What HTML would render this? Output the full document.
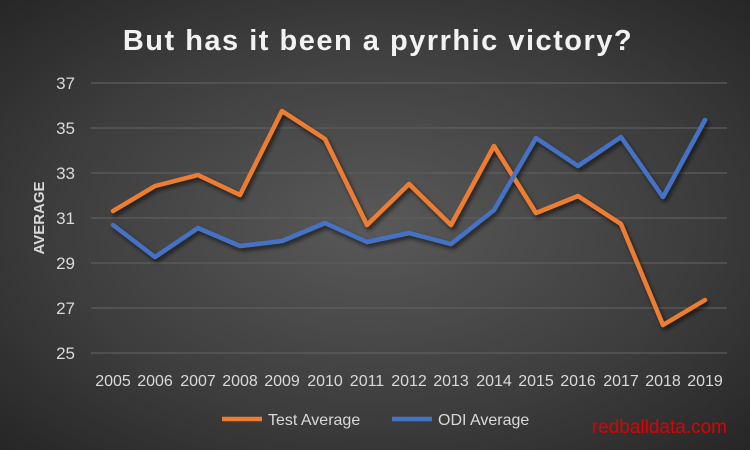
<!DOCTYPE html>
<html><head><style>
html,body{margin:0;padding:0;}
body{width:750px;height:450px;overflow:hidden;background:radial-gradient(ellipse at 50% 50%,#595959 0%,#3d3d3d 60%,#262626 100%);font-family:"Liberation Sans",sans-serif;}
</style></head><body>
<svg width="750" height="450" style="position:absolute;left:0;top:0">
<defs><filter id="s" x="-10%" y="-10%" width="120%" height="130%"><feDropShadow dx="2" dy="3" stdDeviation="2" flood-color="#000" flood-opacity="0.6"/></filter></defs>
<text x="378" y="50" text-anchor="middle" font-size="29" font-weight="bold" fill="#f2f2f2" letter-spacing="1.5">But has it been a pyrrhic victory?</text>
<g stroke="#5e5e5e" stroke-width="1.3">
<line x1="91" x2="727" y1="83" y2="83"/><line x1="91" x2="727" y1="128" y2="128"/><line x1="91" x2="727" y1="173" y2="173"/><line x1="91" x2="727" y1="218" y2="218"/><line x1="91" x2="727" y1="263" y2="263"/><line x1="91" x2="727" y1="308" y2="308"/><line x1="91" x2="727" y1="353" y2="353"/>
</g>
<g fill="#d9d9d9" font-size="17" text-anchor="end">
<text x="75" y="89">37</text><text x="75" y="134">35</text><text x="75" y="179">33</text><text x="75" y="224">31</text><text x="75" y="269">29</text><text x="75" y="314">27</text><text x="75" y="359">25</text>
</g>
<text transform="translate(44,218) rotate(-90)" text-anchor="middle" font-size="15" font-weight="bold" fill="#d9d9d9">AVERAGE</text>
<g fill="#d9d9d9" font-size="16" text-anchor="middle">
<text x="113" y="386">2005</text><text x="155" y="386">2006</text><text x="198" y="386">2007</text><text x="240" y="386">2008</text><text x="282" y="386">2009</text><text x="325" y="386">2010</text><text x="367" y="386">2011</text><text x="409" y="386">2012</text><text x="451" y="386">2013</text><text x="494" y="386">2014</text><text x="536" y="386">2015</text><text x="578" y="386">2016</text><text x="621" y="386">2017</text><text x="663" y="386">2018</text><text x="705" y="386">2019</text>
</g>
<g fill="none" stroke-width="4.5" stroke-linejoin="round" stroke-linecap="round" filter="url(#s)">
<polyline stroke="#ed7d31" points="113,211 155,186 198,175 240,195 282,111 325,139 367,225 409,184 451,225 494,146 536,213 578,196 621,224 663,325 705,300"/>
<polyline stroke="#4472c4" points="113,225 155,257 198,228 240,246 282,241 325,223 367,242 409,233 451,244 494,210 536,138 578,166 621,137 663,197 705,120"/>
</g>
<line x1="222" x2="262" y1="419" y2="419" stroke="#ed7d31" stroke-width="4.5"/>
<text x="268" y="425" font-size="16" fill="#d9d9d9">Test Average</text>
<line x1="392" x2="432" y1="419" y2="419" stroke="#4472c4" stroke-width="4.5"/>
<text x="438" y="425" font-size="16" fill="#d9d9d9">ODI Average</text>
<text x="727" y="433" text-anchor="end" font-size="19" fill="#e00000">redballdata.com</text>
</svg>
</body></html>
